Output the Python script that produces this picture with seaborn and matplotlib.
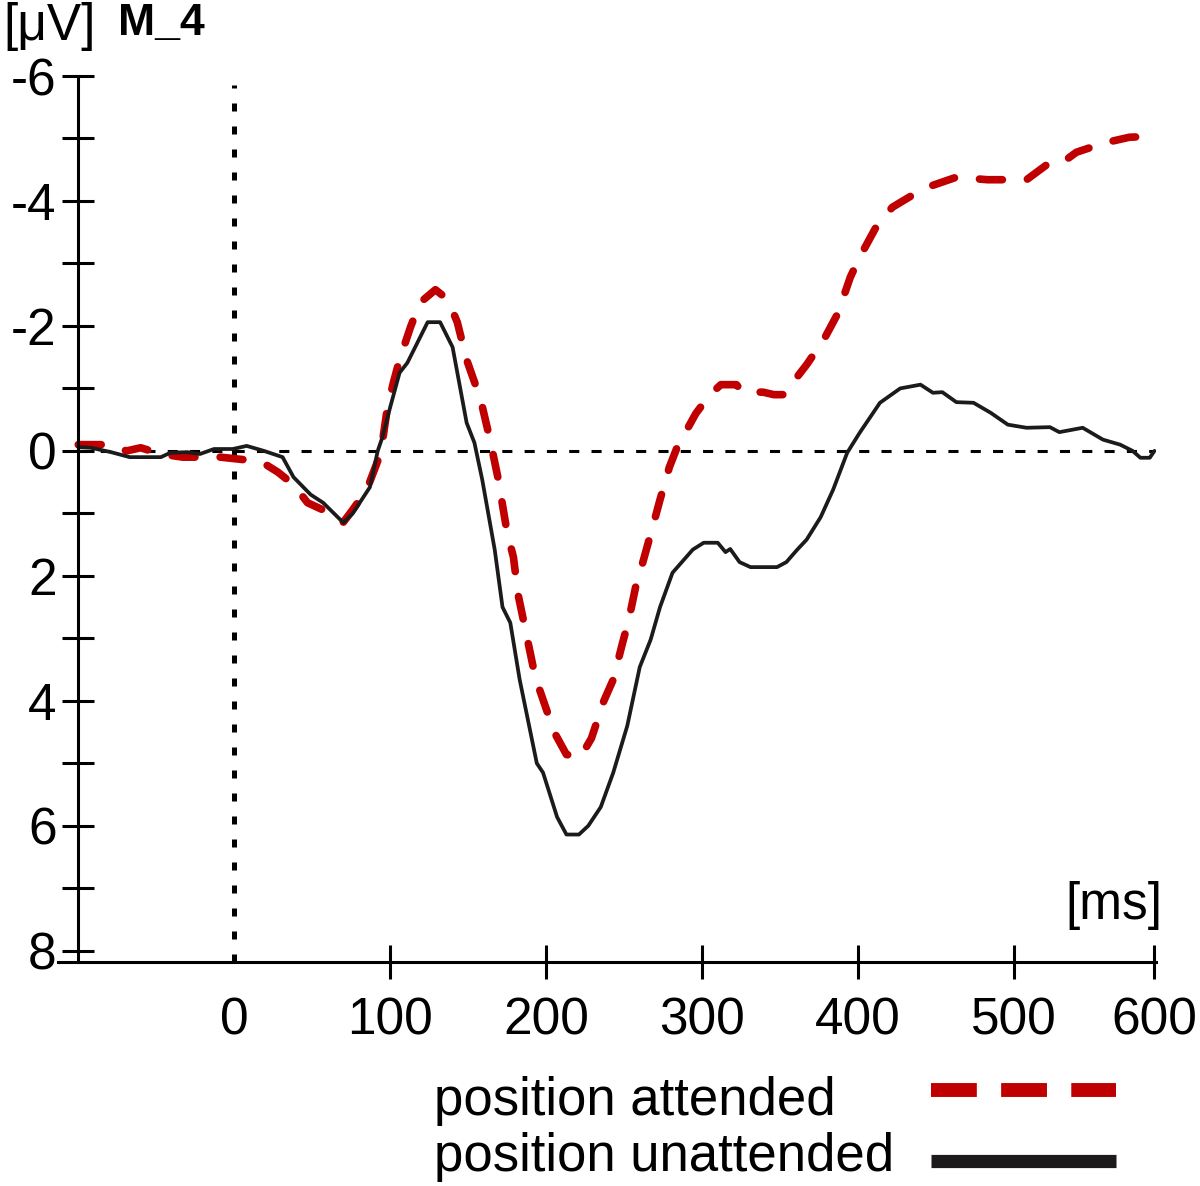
import matplotlib
matplotlib.use("Agg")
import matplotlib.pyplot as plt
import seaborn as sns
import pandas as pd

# time axis in ms, amplitude in microvolt (negative up)
t_attended = [-100, -81, -69, -60, -47, -33, -9, 6, 19, 28, 38, 47, 60, 70, 76, 85, 94, 98, 102, 106,
              113, 119, 129, 137, 143, 149, 158, 164, 169, 175, 179, 182, 185, 190, 193, 201, 206, 213, 222, 229,
              237, 243, 249, 253, 258, 262, 269, 273, 279, 284, 296, 305, 312, 322, 326, 339, 346, 353, 358, 367,
              378, 387, 395, 401, 413, 422, 442, 463, 483, 508, 521, 529, 540, 558, 574, 584, 590]
v_attended = [-0.10, -0.10, 0.00, -0.05, 0.05, 0.10, 0.10, 0.14, 0.20, 0.34, 0.54, 0.83, 0.98, 1.14, 0.94, 0.62, 0.03, -0.66, -1.09, -1.46,
              -1.98, -2.37, -2.58, -2.42, -2.06, -1.46, -0.82, -0.18, 0.42, 1.31, 1.70, 2.30, 2.66, 3.26, 3.62, 4.20, 4.54, 4.86, 4.90, 4.60,
              4.00, 3.66, 3.07, 2.70, 2.10, 1.78, 1.15, 0.78, 0.26, -0.06, -0.60, -0.90, -1.06, -1.06, -0.94, -0.94, -0.90, -0.90, -1.09, -1.38,
              -1.78, -2.20, -2.78, -3.10, -3.65, -3.90, -4.20, -4.38, -4.34, -4.34, -4.58, -4.58, -4.78, -4.93, -5.02, -5.03, -4.93]

t_unattended = [-100, -92, -79, -67, -47, -41, -30, -22, -13, -1, 8, 19, 31, 38, 49, 57, 70, 76, 87, 92,
                95, 100, 106, 111, 124, 132, 140, 149, 154, 159, 167, 172, 177, 183, 194, 198, 207, 213, 221, 227,
                235, 243, 252, 260, 267, 273, 281, 294, 301, 310, 315, 318, 324, 331, 348, 354, 361, 367, 376, 384,
                393, 401, 414, 427, 440, 448, 454, 463, 474, 485, 496, 508, 523, 529, 544, 557, 568, 576, 581, 587, 590]
v_unattended = [-0.06, -0.05, 0.02, 0.10, 0.10, 0.03, 0.02, 0.05, -0.03, -0.03, -0.08, 0.00, 0.10, 0.42, 0.70, 0.83, 1.15, 1.00, 0.58, 0.00,
                -0.22, -0.70, -1.25, -1.41, -2.06, -2.06, -1.66, -0.45, -0.13, 0.46, 1.58, 2.50, 2.75, 3.66, 5.00, 5.15, 5.86, 6.14, 6.14, 6.00,
                5.70, 5.15, 4.40, 3.46, 3.02, 2.50, 1.95, 1.58, 1.47, 1.47, 1.62, 1.57, 1.78, 1.86, 1.86, 1.78, 1.58, 1.42, 1.06, 0.62,
                0.03, -0.29, -0.77, -1.00, -1.06, -0.93, -0.94, -0.78, -0.77, -0.61, -0.42, -0.37, -0.38, -0.30, -0.37, -0.18, -0.10, 0.00, 0.11, 0.11, 0.00]

labels = ["position attended", "position unattended"]
x_ticks = [0, 100, 200, 300, 400, 500, 590]
x_ticklabels = ["0", "100", "200", "300", "400", "500", "600"]
y_major = [-6, -4, -2, 0, 2, 4, 6, 8]
y_major_labels = ["-6", "-4", "-2", "0", "2", "4", "6", "8"]
y_minor = [-5, -3, -1, 1, 3, 5, 7]

RED = "#C00000"
BLACK = "#1c1a1a"

sns.set_style("white")
plt.rcParams["font.family"] = ["Liberation Sans", "DejaVu Sans"]
plt.rcParams["axes.unicode_minus"] = False
plt.rcParams["text.color"] = "black"
plt.rcParams["xtick.color"] = "black"
plt.rcParams["ytick.color"] = "black"

fig = plt.figure(figsize=(12, 11.86), dpi=100)
ax = fig.add_axes([58 / 1200, 1 - 962 / 1186, 1098 / 1200, 886 / 1186])

df_att = pd.DataFrame({"t": t_attended, "v": v_attended})
df_un = pd.DataFrame({"t": t_unattended, "v": v_unattended})

sns.lineplot(data=df_att, x="t", y="v", ax=ax, color=RED, lw=5.5, estimator=None,
             linestyle=(0, (3.0, 3.3)), dash_capstyle="round", label=labels[0], legend=False)
sns.lineplot(data=df_un, x="t", y="v", ax=ax, color=BLACK, lw=2.7, estimator=None,
             label=labels[1], legend=False)
curve_lines = list(ax.get_lines())

# reference lines
ax.hlines(0, t_unattended[0], t_unattended[-1], colors="black", lw=2.2,
          linestyles=(0, (3.3, 4.0)), zorder=1)
ax.axvline(0, ymax=0.99, color="black", lw=3.6, linestyle=(0, (1.6, 3.0)), zorder=1)

ax.set_xlim(-113, 591)
ax.set_ylim(8.18, -6)

for s in ["top", "right"]:
    ax.spines[s].set_visible(False)
ax.spines["left"].set_position(("data", -100))
for s in ["left", "bottom"]:
    ax.spines[s].set_linewidth(2.2)
    ax.spines[s].set_color("black")

ax.set_xticks(x_ticks)
ax.set_xticklabels(x_ticklabels)
ax.set_yticks(y_major)
ax.set_yticklabels(y_major_labels)
ax.set_yticks(y_minor, minor=True)
ax.tick_params(axis="x", bottom=True, direction="inout", length=25, width=2.2, pad=12,
               labelsize=37, colors="black")
ax.tick_params(axis="y", which="both", left=True, direction="inout", length=23, width=2.2,
               pad=4, labelsize=37, colors="black")
ax.xaxis.get_major_ticks()[0].tick1line.set_visible(False)
ax.set_xlabel("")
ax.set_ylabel("")

ax.text(1.006, 0.064, "[ms]", transform=ax.transAxes, ha="right", va="center", fontsize=37)
fig.text(3 / 1200, 1 - 40 / 1186, "[μV]", ha="left", va="baseline", fontsize=37)
fig.text(118 / 1200, 1 - 35 / 1186, "M_4", ha="left", va="baseline", fontsize=32,
         fontweight="bold")

# legend: labels left-aligned, line samples on the right
fig.text(434 / 1200, 1 - 1101 / 1186, labels[0], ha="left", va="center", fontsize=38)
fig.text(434 / 1200, 1 - 1157 / 1186, labels[1], ha="left", va="center", fontsize=38)
leg = ax.legend(handles=curve_lines, labels=["", ""], loc="center left",
                bbox_to_anchor=(931 / 1200, 1 - 1130 / 1186), bbox_transform=fig.transFigure,
                frameon=False, fontsize=38, handlelength=3.5, handletextpad=0,
                labelspacing=0.39, borderpad=0, borderaxespad=0)
h_red, h_black = leg.get_lines()
h_red.set_linewidth(10)
h_red.set_linestyle((0, (3.3, 1.75)))
h_red.set_dash_capstyle("butt")
h_black.set_linewidth(9.5)
h_black.set_solid_capstyle("butt")

fig.savefig("out.png", dpi=100)
